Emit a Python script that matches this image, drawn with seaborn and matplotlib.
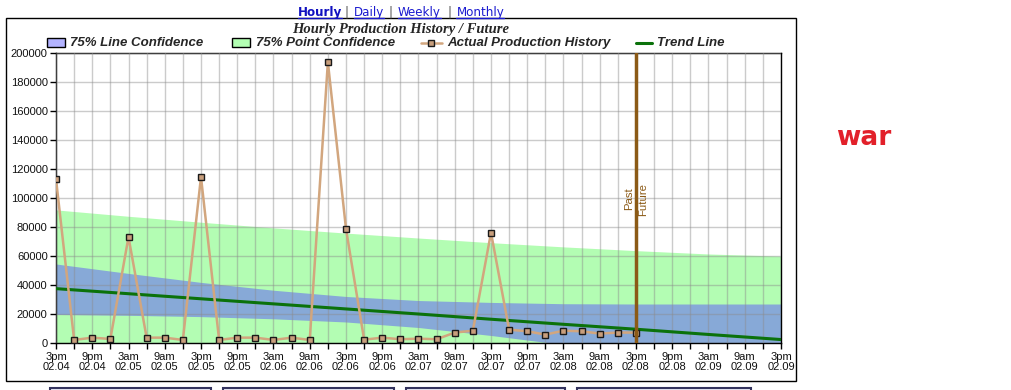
import matplotlib
matplotlib.use("Agg")
import matplotlib.pyplot as plt
import seaborn as sns
import pandas as pd
from matplotlib.patches import Rectangle
from matplotlib.lines import Line2D
from matplotlib.transforms import IdentityTransform

# --- data ------------------------------------------------------------------
# hours since 3pm 02.04, one reading every 3 hours
hist_hours = list(range(0, 97, 3))
production = [113300, 2300, 3900, 3000, 73300, 3900, 3900, 2300,
              114700, 2300, 3900, 3900, 2300, 3900, 2300, 194000,
              78900, 2500, 3900, 2800, 3200, 2800, 7400, 8700,
              76300, 9400, 8300, 6000, 8700, 8300, 6700, 7400, 7400]

# bands and trend sampled every 12 hours
band_hours = [0, 12, 24, 36, 48, 60, 72, 84, 96, 108, 120]
trend = [37700, 34200, 30700, 27200, 23700, 20200, 16600, 13100, 9700, 6100, 2600]
line_upper = [54700, 48200, 42000, 36600, 32300, 29500, 28200, 27300, 27100, 27100, 27100]
line_lower = [19900, 19300, 18400, 16900, 14700, 10900, 5400, -900, -7400, -14000, -21000]
point_upper = [92000, 87600, 83500, 79600, 76000, 72600, 69400, 66500, 63900, 61600, 60100]

past_future_hour = 96

tick_hours = list(range(0, 121, 6))
tick_times = ["3pm", "9pm", "3am", "9am"] * 5 + ["3pm"]
tick_dates = ["02.04", "02.04", "02.05", "02.05", "02.05", "02.05",
              "02.06", "02.06", "02.06", "02.06", "02.07", "02.07",
              "02.07", "02.07", "02.08", "02.08", "02.08", "02.08",
              "02.09", "02.09", "02.09"]

links = ["Hourly", "Daily", "Weekly", "Monthly"]

# --- figure -----------------------------------------------------------------
sns.set_style("white")
plt.rcParams['font.family'] = ['Liberation Sans', 'DejaVu Sans']

W, H = 1012, 390
fig = plt.figure(figsize=(W / 100, H / 100), dpi=100)


def fx(x):
    return x / W


def fy(y):
    return 1 - y / H


ax = fig.add_axes([fx(56), fy(343.3), 725 / W, 290 / H])

ax.fill_between(band_hours, 0, point_upper, color='#b3fdb3', lw=0, zorder=1)
ax.fill_between(band_hours, line_lower, line_upper, color='#87a9d7', lw=0, zorder=1.1)

df_trend = pd.DataFrame({'hour': band_hours, 'value': trend})
sns.lineplot(data=df_trend, x='hour', y='value', ax=ax, color='#0b720b',
             linewidth=2.2, zorder=3)

df_hist = pd.DataFrame({'hour': hist_hours, 'value': production})
sns.lineplot(data=df_hist, x='hour', y='value', ax=ax, color='#d2a67e',
             linewidth=1.8, marker='s', markersize=4.6,
             markerfacecolor='#c89e7c', markeredgecolor='#1a1a1a',
             markeredgewidth=1, zorder=4)

ax.axvline(past_future_hour, color='#8b5a16', lw=2.5, zorder=5)
ax.text(past_future_hour - 1.2, 99500, "Past", rotation=90, ha='center',
        va='center', fontsize=8.2, color='#8b5a16', zorder=6)
ax.text(past_future_hour + 1.15, 99500, "Future", rotation=90, ha='center',
        va='center', fontsize=8.2, color='#8b5a16', zorder=6)

ax.set_xlim(0, 120)
ax.set_ylim(0, 200000)
ax.set_xticks(tick_hours)
ax.set_xticks([h + 3 for h in tick_hours[:-1]], minor=True)
ax.set_xticklabels([f"{t}\n{d}" for t, d in zip(tick_times, tick_dates)],
                   linespacing=1.05)
ax.set_yticks(range(0, 200001, 20000))
ax.set_yticklabels([str(v) for v in range(0, 200001, 20000)])
ax.tick_params(axis='both', which='both', direction='out', length=4,
               width=1, color='black', labelsize=8, pad=2, labelcolor='#111111')
ax.tick_params(axis='x', which='both', bottom=True)
ax.tick_params(axis='y', left=True)
ax.set_xlabel("")
ax.set_ylabel("")

ax.grid(True, axis='x', which='both', color='#8c8c8c', lw=1, alpha=0.45)
ax.grid(True, axis='y', which='major', color='#8c8c8c', lw=1, alpha=0.45)
ax.set_axisbelow(False)
for s in ax.spines.values():
    s.set_color('black')
    s.set_linewidth(1)
    s.set_visible(True)

# outer frame and buttons
fig.add_artist(Rectangle((fx(6), fy(381)), fx(790), 363 / H, transform=fig.transFigure,
                         fill=False, edgecolor='black', lw=1))
for x0, x1 in [(50, 211), (223, 394), (406, 565), (577, 751)]:
    fig.add_artist(Rectangle((fx(x0), fy(396)), fx(x1 - x0), 8 / H,
                             transform=fig.transFigure, facecolor='#e6e6f4',
                             edgecolor='#33335e', lw=1.5))

# title
fig.text(fx(401), fy(29), "Hourly Production History / Future",
         ha='center', va='center', fontsize=10.5, fontweight='bold',
         fontstyle='italic', family='Liberation Serif')

# legend (drawn by hand to match the layout)
leg_y = 43
fig.add_artist(Rectangle((fx(47), fy(47)), fx(18), 9 / H, transform=fig.transFigure,
                         facecolor='#b3b3ff', edgecolor='black', lw=1))
fig.text(fx(70), fy(leg_y), "75% Line Confidence", va='center', fontsize=9.5,
         fontweight='bold', fontstyle='italic')
fig.add_artist(Rectangle((fx(232), fy(47)), fx(18), 9 / H, transform=fig.transFigure,
                         facecolor='#b3ffb3', edgecolor='black', lw=1))
fig.text(fx(256), fy(leg_y), "75% Point Confidence", va='center', fontsize=9.5,
         fontweight='bold', fontstyle='italic')
fig.add_artist(Line2D([fx(421), fx(442)], [fy(leg_y), fy(leg_y)],
                      transform=fig.transFigure, color='#d2a67e', lw=1.8))
fig.add_artist(Line2D([fx(431.5)], [fy(leg_y)], transform=fig.transFigure,
                      marker='s', markersize=4.6, markerfacecolor='#c89e7c',
                      markeredgecolor='#1a1a1a', markeredgewidth=1, lw=0))
fig.text(fx(447), fy(leg_y), "Actual Production History", va='center', fontsize=9.5,
         fontweight='bold', fontstyle='italic')
fig.add_artist(Line2D([fx(636), fx(652)], [fy(leg_y), fy(leg_y)],
                      transform=fig.transFigure, color='#0b720b', lw=2.2))
fig.text(fx(657), fy(leg_y), "Trend Line", va='center', fontsize=9.5,
         fontweight='bold', fontstyle='italic')

# navigation links
link_x = [297.5, 354, 398, 456.5]
sep_x = [347, 390.5, 450]
link_texts = []
for i, (name, x) in enumerate(zip(links, link_x)):
    t = fig.text(fx(x), fy(12.5), name, va='center', ha='left', fontsize=8.6,
                 family='DejaVu Sans', color='#1a1ad0' if i else '#1010c0',
                 fontweight='bold' if i == 0 else 'normal')
    link_texts.append(t)
for x in sep_x:
    fig.text(fx(x), fy(12.5), "|", va='center', ha='center', fontsize=8.6,
             family='DejaVu Sans', color='#555555')

# side note
fig.text(fx(836), fy(138), "war", va='center', ha='left', fontsize=19,
         fontweight='bold', family='DejaVu Sans', color='#e2202a')

fig.canvas.draw()
renderer = fig.canvas.get_renderer()
for t in link_texts:
    bb = t.get_window_extent(renderer)
    fig.add_artist(Line2D([bb.x0, bb.x1], [bb.y0 + 1.5, bb.y0 + 1.5],
                          transform=IdentityTransform(), color=t.get_color(), lw=1))

fig.savefig("out.png", dpi=100)
